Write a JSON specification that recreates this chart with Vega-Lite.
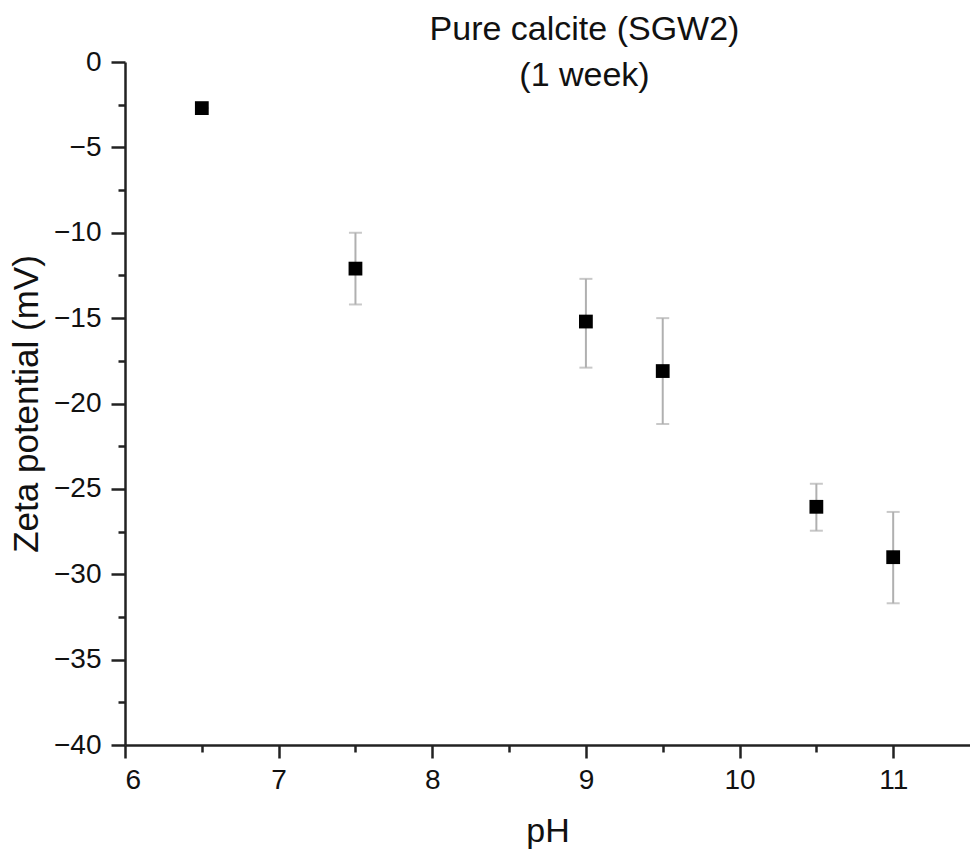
{
  "$schema": "https://vega.github.io/schema/vega-lite/v6.json",
  "width": 845,
  "height": 683,
  "autosize": {"type": "none"},
  "padding": {"left": 125, "top": 62, "right": 0, "bottom": 111},
  "background": "white",
  "config": {
    "view": {"stroke": null},
    "font": "Liberation Sans",
    "axis": {"grid": false}
  },
  "title": {
    "text": ["Pure calcite (SGW2)", "(1 week)"],
    "anchor": "middle",
    "frame": "group",
    "fontSize": 34,
    "fontWeight": "normal",
    "font": "Liberation Sans",
    "color": "#111",
    "baseline": "bottom",
    "lineHeight": 46,
    "offset": -32,
    "dy": 47,
    "dx": 37
  },
  "data": {
    "values": [
      {"pH": 6.5, "zeta": -2.7, "lo": -2.7, "hi": -2.7},
      {"pH": 7.5, "zeta": -12.1, "lo": -14.2, "hi": -10.0},
      {"pH": 9.0, "zeta": -15.2, "lo": -17.9, "hi": -12.7},
      {"pH": 9.5, "zeta": -18.1, "lo": -21.2, "hi": -15.0},
      {"pH": 10.5, "zeta": -26.05, "lo": -27.45, "hi": -24.7},
      {"pH": 11.0, "zeta": -29.0, "lo": -31.7, "hi": -26.35}
    ]
  },
  "resolve": {"axis": {"x": "independent", "y": "independent"}},
  "layer": [
    {
      "mark": {"type": "rule", "color": "#b0b0b0", "strokeWidth": 2},
      "encoding": {
        "x": {"field": "pH", "type": "quantitative", "scale": {"domain": [6, 11.5], "nice": false, "zero": false},
          "axis": {"orient": "bottom", "values": [6, 7, 8, 9, 10, 11], "title": "pH", "titleFontSize": 34, "titleFontWeight": "normal", "titleColor": "#111", "titlePadding": 20, "labelFontSize": 28, "labelColor": "#111", "labelPadding": 8, "tickSize": 13, "tickWidth": 2.5, "tickColor": "#222", "domainColor": "#222", "domainWidth": 2.5, "format": "d"}},
        "y": {"field": "lo", "type": "quantitative", "scale": {"domain": [-40, 0], "nice": false},
          "axis": {"orient": "left", "values": [0, -5, -10, -15, -20, -25, -30, -35, -40], "title": "Zeta potential (mV)", "titleFontSize": 35, "titleFontWeight": "normal", "titleColor": "#111", "titlePadding": 9, "labelFontSize": 28, "labelColor": "#111", "labelPadding": 10, "tickSize": 14, "tickWidth": 2.5, "tickColor": "#222", "domainColor": "#222", "domainWidth": 2.5, "format": "d"}},
        "y2": {"field": "hi"}
      }
    },
    {
      "mark": {"type": "tick", "color": "#b0b0b0", "orient": "horizontal", "size": 13, "thickness": 2},
      "encoding": {
        "x": {"field": "pH", "type": "quantitative", "axis": {"orient": "bottom", "values": [6.5, 7.5, 8.5, 9.5, 10.5], "labels": false, "title": null, "domain": false, "tickSize": 7, "tickWidth": 2.5, "tickColor": "#222"}},
        "y": {"field": "lo", "type": "quantitative", "axis": {"orient": "left", "values": [-2.5, -7.5, -12.5, -17.5, -22.5, -27.5, -32.5, -37.5], "labels": false, "title": null, "domain": false, "tickSize": 7, "tickWidth": 2.5, "tickColor": "#222"}}
      }
    },
    {
      "mark": {"type": "tick", "color": "#b0b0b0", "orient": "horizontal", "size": 13, "thickness": 2},
      "encoding": {
        "x": {"field": "pH", "type": "quantitative", "axis": null},
        "y": {"field": "hi", "type": "quantitative", "axis": null}
      }
    },
    {
      "mark": {"type": "point", "shape": "square", "filled": true, "color": "#000", "size": 190, "opacity": 1},
      "encoding": {
        "x": {"field": "pH", "type": "quantitative", "axis": null},
        "y": {"field": "zeta", "type": "quantitative", "axis": null}
      }
    }
  ]
}
